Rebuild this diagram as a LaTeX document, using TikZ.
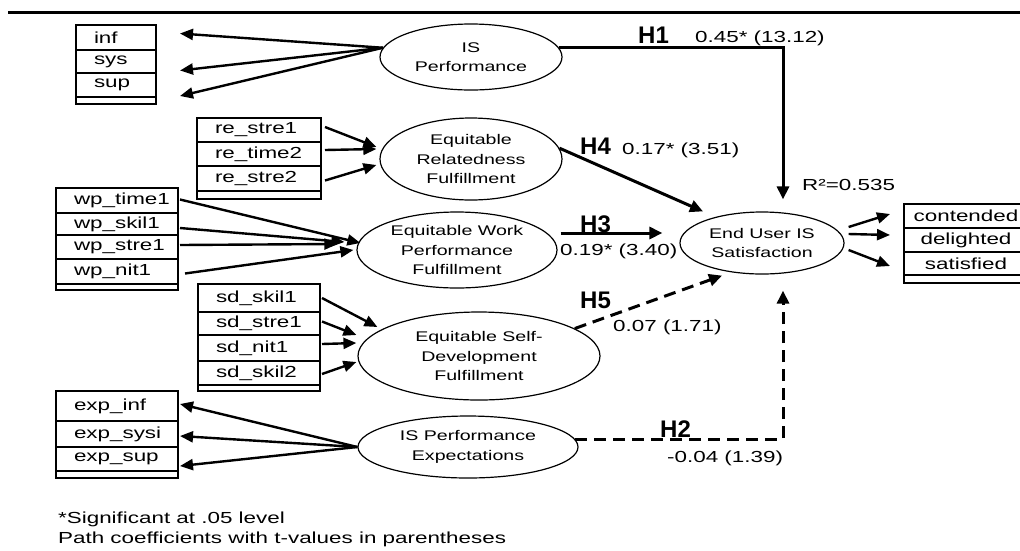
\documentclass[tikz,border=0pt]{standalone}
\usepackage{fontspec}
\usepackage{graphicx}
\setmainfont{Liberation Sans}
\newfontfamily\hypfont{Liberation Sans}
% the lettering of this figure is set wide
\newcommand\wtext[1]{\scalebox{1.4}[1]{#1}}
\usetikzlibrary{shapes.geometric,arrows.meta,calc}
\begin{document}
\begin{tikzpicture}[x=1pt,y=-1pt,
  row/.style={draw, line width=2pt, inner ysep=0pt, inner xsep=18pt, align=left,
    anchor=north west, font=\fontsize{16}{19}\selectfont},
  rowc/.style={row, inner xsep=0pt, align=center, text width=124pt},
  boxframe/.style={draw, line width=2pt, inner sep=0pt, anchor=north west},
  lat/.style={ellipse, draw, line width=1.2pt, inner sep=0pt, align=center,
    font=\fontsize{14}{19.5}\selectfont},
  ld/.style={line width=2.4pt, -{Triangle[length=13pt,width=11pt]}},
  struct/.style={line width=3pt, -{Triangle[length=13pt,width=12pt]}},
  nsstruct/.style={struct, dash pattern=on 12pt off 7pt},
  hyp/.style={anchor=base west, inner sep=0pt,
    font=\hypfont\bfseries\fontsize{24}{24}\selectfont},
  coef/.style={anchor=base west, inner sep=0pt, font=\fontsize{16}{19}\selectfont},
]
\useasboundingbox (0,0) rectangle (1020,550);

% heading rule
\draw[line width=3pt] (8,12) -- (1020,12);

% indicator blocks
\node[boxframe, minimum width=80pt, minimum height=79pt] (ispbox) at (75,24) {};
\node[row, text width=44pt, minimum height=25pt] (inf) at (75,24) {\wtext{inf}};
\node[row, text width=44pt, minimum height=23pt] (sys) at (75,49) {\wtext{sys}};
\node[row, text width=44pt, minimum height=24pt] (sup) at (75,72) {\wtext{sup}};

\node[boxframe, minimum width=124pt, minimum height=81pt] (rebox) at (196,117) {};
\node[row, text width=88pt, minimum height=24pt] (re1) at (196,117) {\wtext{re\_stre1}};
\node[row, text width=88pt, minimum height=24pt] (re2) at (196,141) {\wtext{re\_time2}};
\node[row, text width=88pt, minimum height=25pt] (re3) at (196,165) {\wtext{re\_stre2}};

\node[boxframe, minimum width=122pt, minimum height=102pt] (wpbox) at (55,187) {};
\node[row, text width=86pt, minimum height=25pt] (wp1) at (55,187) {\wtext{wp\_time1}};
\node[row, text width=86pt, minimum height=22pt] (wp2) at (55,212) {\wtext{wp\_skil1}};
\node[row, text width=86pt, minimum height=24pt] (wp3) at (55,234) {\wtext{wp\_stre1}};
\node[row, text width=86pt, minimum height=25pt] (wp4) at (55,258) {\wtext{wp\_nit1}};

\node[boxframe, minimum width=122pt, minimum height=107pt] (sdbox) at (197,283) {};
\node[row, text width=86pt, minimum height=28pt] (sd1) at (197,283) {\wtext{sd\_skil1}};
\node[row, text width=86pt, minimum height=23pt] (sd2) at (197,311) {\wtext{sd\_stre1}};
\node[row, text width=86pt, minimum height=26pt] (sd3) at (197,334) {\wtext{sd\_nit1}};
\node[row, text width=86pt, minimum height=24pt] (sd4) at (197,360) {\wtext{sd\_skil2}};

\node[boxframe, minimum width=122pt, minimum height=87pt] (expbox) at (55,390) {};
\node[row, text width=86pt, minimum height=30pt] (e1) at (55,390) {\wtext{exp\_inf}};
\node[row, text width=86pt, minimum height=26pt] (e2) at (55,420) {\wtext{exp\_sysi}};
\node[row, text width=86pt, minimum height=24pt] (e3) at (55,446) {\wtext{exp\_sup}};

\node[boxframe, minimum width=124pt, minimum height=79pt] (satbox) at (903,203) {};
\node[rowc, minimum height=24pt] (cont) at (903,203) {\wtext{contended}};
\node[rowc, minimum height=24pt] (deli) at (903,227) {\wtext{delighted}};
\node[rowc, minimum height=23pt] (sati) at (903,251) {\wtext{satisfied}};

% latent constructs
\node[lat, minimum width=182pt, minimum height=66pt] (isp) at (471,57)
  {\wtext{IS}\\\wtext{Performance}};
\node[lat, minimum width=182pt, minimum height=82pt] (erf) at (471,159)
  {\wtext{Equitable}\\\wtext{Relatedness}\\\wtext{Fulfillment}};
\node[lat, minimum width=200pt, minimum height=76pt] (ewp) at (457,250)
  {\wtext{Equitable Work}\\\wtext{Performance}\\\wtext{Fulfillment}};
\node[lat, minimum width=242pt, minimum height=88pt] (esd) at (479,356)
  {\wtext{Equitable Self-}\\\wtext{Development}\\\wtext{Fulfillment}};
\node[lat, minimum width=220pt, minimum height=62pt] (ispe) at (468,447)
  {\wtext{IS Performance}\\\wtext{Expectations}};
\node[lat, minimum width=164pt, minimum height=62pt] (eus) at (762,243)
  {\wtext{End User IS}\\\wtext{Satisfaction}};

% measurement paths
\draw[ld] (isp.174) -- ($(inf.east)+(23,-4)$);
\draw[ld] (isp.174) -- ($(sys.east)+(23,9)$);
\draw[ld] (isp.174) -- ($(sup.east)+(23,11)$);

\draw[ld] ($(re1.east)+(3,-3)$) -- ($(erf.west)+(-3,-12)$);
\draw[ld] ($(re2.east)+(3,-4)$) -- ($(erf.west)+(-3,-10)$);
\draw[ld] ($(re3.east)+(3,2)$) -- ($(erf.west)+(-3,6)$);

\draw[ld] ($(wp1.east)+(1,-1)$) -- ($(ewp.west)+(4,-7)$);
\draw[ld] ($(wp2.east)+(1,4)$) -- ($(ewp.west)+(-12,-8)$);
\draw[ld] ($(wp3.east)+(1,-2)$) -- ($(ewp.west)+(-19,-6)$);
\draw[ld] ($(wp4.east)+(6,2)$) -- ($(ewp.west)+(-3,0)$);

\draw[ld] ($(sd1.east)+(1,0)$) -- ($(esd.west)+(20,-29)$);
\draw[ld] ($(sd2.east)+(1,-2)$) -- ($(esd.west)+(-1,-21)$);
\draw[ld] ($(sd3.east)+(1,-4)$) -- ($(esd.west)+(-1,-13)$);
\draw[ld] ($(sd4.east)+(1,1)$) -- ($(esd.west)+(-1,6)$);

\draw[ld] (ispe.west) -- ($(e1.east)+(1,-2)$);
\draw[ld] (ispe.west) -- ($(e2.east)+(1,2)$);
\draw[ld] (ispe.west) -- ($(e3.east)+(1,7)$);

\draw[ld] ($(eus.east)+(4,-16)$) -- ($(cont.west)+(-13,-2)$);
\draw[ld] ($(eus.east)+(4,-9)$) -- ($(deli.west)+(-13,-5)$);
\draw[ld] ($(eus.east)+(4,7)$) -- ($(sati.west)+(-13,2.5)$);

% structural paths
\draw[struct] (isp.6) -| ($(eus.north)+(21,-12)$);
\draw[struct] (erf.7) -- ($(eus.north)+(-59,0)$);
\draw[struct] ($(ewp.east)+(3,-17)$) -- ($(eus.west)+(-17,-10)$);
\draw[nsstruct] (esd.16) -- ($(eus.south)+(-40,1)$);
\draw[nsstruct] (ispe.4) -| ($(eus.south)+(21,16)$);

% hypotheses and estimates
\node[hyp] (h1) at (638,43) {H1};
\node[coef] (c1) at (695,42) {\wtext{0.45* (13.12)}};
\node[hyp] (h4) at (580,154) {H4};
\node[coef] (c4) at (622,154) {\wtext{0.17* (3.51)}};
\node[hyp] (h3) at (580,232) {H3};
\node[coef] (c3) at (560,255) {\wtext{0.19* (3.40)}};
\node[hyp] (h5) at (580,308) {H5};
\node[coef] (c5) at (613,331) {\wtext{0.07 (1.71)}};
\node[hyp] (h2) at (660,437) {H2};
\node[coef] (c2) at (667,462) {\wtext{-0.04 (1.39)}};
\node[coef] (r2) at (802,190) {\wtext{R²=0.535}};

% notes
\node[coef] (fn1) at (58,523) {\wtext{*Significant at .05 level}};
\node[coef] (fn2) at (58,543) {\wtext{Path coefficients with t-values in parentheses}};
\end{tikzpicture}
\end{document}
